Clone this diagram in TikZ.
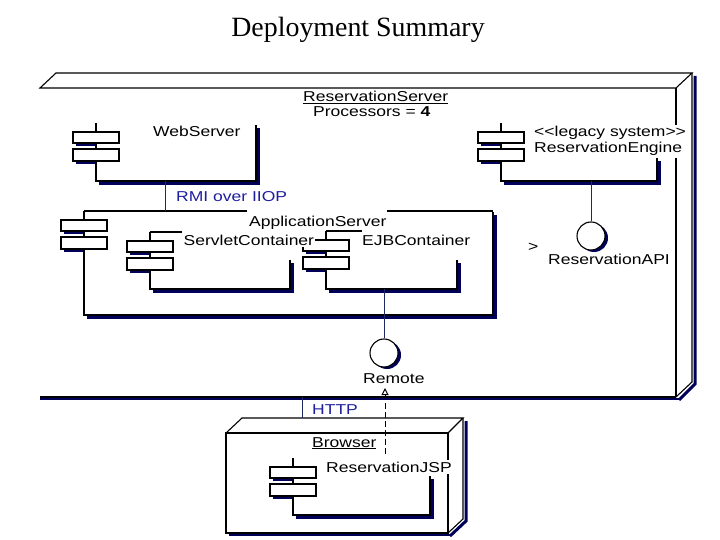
\documentclass[tikz,border=0pt]{standalone}
\usepackage{fontspec}
\usetikzlibrary{arrows.meta}
\newfontfamily\umlf[FakeStretch=1.22]{Liberation Sans}
\newfontfamily\titlef{Liberation Serif}
\definecolor{shadc}{RGB}{0,0,90}
\definecolor{bluet}{RGB}{30,30,160}
\definecolor{connc}{RGB}{30,40,100}
\tikzset{
  edge/.style={draw=black,line width=1.1bp},
  shadline/.style={draw=shadc,line width=3bp},
  shadfill/.style={fill=shadc},
  lbl/.style={font=\umlf\fontsize{14.4pt}{16pt}\selectfont,inner sep=0pt,anchor=base west},
  whitelbl/.style={lbl,fill=white,inner xsep=1bp,inner ysep=2bp},
  bluelbl/.style={lbl,text=bluet},
  conn/.style={draw=connc,line width=1bp},
  lolli/.style={circle,draw=black,line width=1.1bp,fill=white,minimum size=28bp,inner sep=0pt},
  lollishad/.style={circle,fill=shadc,minimum size=28bp,inner sep=0pt},
}
\newcommand\umlcomp[6]{%
  \fill[shadfill] ({#1-20},{#2+12}) rectangle ({#1+26},{#2+23});
  \fill[shadfill] ({#1-20},{#2+29}) rectangle ({#1+26},{#2+41});
  \fill[white] (#1,#2) rectangle (#3,#4);
  \draw[shadline] ({#1+3},{#4+2.5}) -- ({#3+2.5},{#4+2.5}) -- ({#3+2.5},{#5+3});
  \draw[edge] (#1,#2) -- (#1,#4) -- (#3,#4) -- (#3,#5);
  \draw[edge] (#1,#2) -- (#6,#2);
  \draw[edge,fill=white] ({#1-23},{#2+9}) rectangle ({#1+23},{#2+20});
  \draw[edge,fill=white] ({#1-23},{#2+26}) rectangle ({#1+23},{#2+38});
}
\begin{document}
\begin{tikzpicture}[x=1bp,y=-1bp]
\useasboundingbox[fill=white] (0,0) rectangle (720,540);
% title
\node[font=\titlef\fontsize{28pt}{30pt}\selectfont,inner sep=0pt,anchor=base] (title) at (358,37) {Deployment Summary};
% ---------- main node ReservationServer ----------
\draw[shadline] (695,76) -- (695,384) -- (679,400);
\draw[draw=shadc,line width=2.5bp] (40,399) -- (679,399);
\draw[edge] (40,88) -- (56,73) -- (692,73) -- (676,88) -- cycle;
\draw[edge] (676,88) -- (676,397);
\draw[edge] (692,73) -- (692,382) -- (676,397);
\draw[edge] (40,397) -- (676,397);
\node[lbl] (rs) at (303,102) {\underline{ReservationServer}};
\node[lbl] (proc) at (313,117) {Processors = \textbf{4}};
% ---------- WebServer ----------
\umlcomp{96}{123}{256}{181}{125}{96}
\node[lbl] (ws) at (153,137) {WebServer};
% ---------- ReservationEngine ----------
\umlcomp{501}{123}{657}{181}{158}{501}
\node[whitelbl] (leg) at (533,137) {<\kern0pt<legacy system>\kern0pt>};
\node[whitelbl] (re) at (533,153) {ReservationEngine};
% ---------- ApplicationServer ----------
\umlcomp{84}{211}{493}{315}{212}{247}
\draw[edge] (387,211) -- (493,211);
\node[lbl] (as) at (249,227) {ApplicationServer};
% ---------- ServletContainer ----------
\umlcomp{150}{232}{290}{289}{260}{182}
% ---------- EJBContainer ----------
\umlcomp{326}{231}{457}{289}{260}{362}
\node[lbl] (ejb) at (362,246) {EJBContainer};
\node[lbl,fill=white,inner xsep=0.5bp,inner ysep=1bp] (sc) at (183,246) {ServletContainer};
% ---------- lollipops ----------
\node[lollishad] at (387,355) {};
\node[lolli] (remote) at (384,353) {};
\node[lbl] (remotet) at (363,383) {Remote};
\node[lollishad] at (594,238) {};
\node[lolli] (api) at (591,236) {};
\node[lbl] (apit) at (548,265) {ReservationAPI};
\node[lbl] (gt) at (528,252) {>};
% ---------- Browser node ----------
\draw[shadline] (466,421) -- (466,521) -- (450,536);
\draw[draw=shadc,line width=2.5bp] (229,535) -- (450,535);
\draw[edge] (226,433) rectangle (448,533);
\draw[edge] (226,433) -- (242,418) -- (463,418) -- (448,433);
\draw[edge] (463,418) -- (463,519) -- (448,533);
\node[lbl] (br) at (312,447) {\underline{Browser}};
% ---------- ReservationJSP ----------
\umlcomp{293}{458}{430}{515}{476}{293}
\node[whitelbl] (jsp) at (325,472) {ReservationJSP};
% ---------- connectors ----------
\coordinate (wsB) at (165,181);
\coordinate (asT) at (165,211);
\draw[conn] (wsB) -- (asT);
\node[bluelbl] (rmi) at (176,202) {RMI over IIOP};
\coordinate (ejbB) at (384,289);
\draw[conn] (ejbB) -- (remote.north);
\coordinate (reB) at (591,181);
\draw[conn] (reB) -- (api.north);
\coordinate (mainB) at (302,397);
\coordinate (brT) at (302,418);
\draw[conn] (mainB) -- (brT);
\node[bluelbl] (http) at (312,414) {HTTP};
\coordinate (jspT) at (385,454);
\coordinate (remB) at (385,388);
\draw[black,line width=1bp,dashed,dash pattern=on 6bp off 3bp,-{Triangle[open,width=7bp,length=7bp]}] (jspT) -- (remB);
\end{tikzpicture}
\end{document}
